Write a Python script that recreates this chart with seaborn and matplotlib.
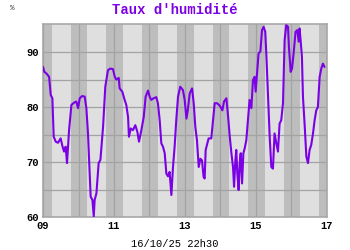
import numpy as np
import pandas as pd
import matplotlib
matplotlib.use("Agg")
import matplotlib.pyplot as plt
import seaborn as sns

# ---- data: hours since 09/10 00h00, relative humidity (%)
hours = [0.0, 0.9, 2.3, 3.2, 4.1, 5.2, 6.3, 7.2, 8.6, 10.1, 11.9, 13.1, 14.2, 15.3, 16.2,
         17.6, 19.2, 21.0, 22.5, 23.7, 24.8, 26.4, 28.2, 29.3, 30.4, 31.5, 32.2, 33.4,
         34.3, 34.9, 36.1, 37.6, 38.8, 40.6, 42.1, 43.9, 45.5, 47.3, 48.5, 49.6, 51.2,
         51.8, 53.6, 55.2, 56.3, 57.5, 58.1, 59.3, 60.8, 62.4, 63.8, 64.9, 66.5, 68.1,
         69.4, 71.0, 72.1, 73.2, 74.8, 76.6, 77.7, 78.9, 80.0, 81.1, 82.3, 83.4, 84.5,
         85.6, 86.8, 87.9, 89.0, 90.1, 91.3, 92.8, 94.6, 95.8, 97.0, 97.9, 99.2, 100.8,
         101.9, 103.0, 104.1, 105.3, 106.4, 107.5, 108.6, 109.3, 110.0, 111.1, 112.0,
         113.8, 115.0, 116.1, 117.7, 119.0, 120.1, 121.3, 122.4, 124.0, 125.1, 126.2,
         127.4, 128.5, 129.2, 130.1, 130.7, 131.4, 132.3, 133.0, 133.7, 134.6, 135.5,
         136.4, 137.5, 138.6, 139.7, 140.9, 142.0, 143.1, 143.8, 144.9, 145.8, 147.0,
         148.1, 149.2, 150.3, 151.0, 152.1, 153.3, 154.4, 155.5, 156.6, 157.8, 158.9,
         160.0, 161.1, 162.3, 163.4, 164.5, 165.7, 166.3, 167.5, 168.4, 169.5, 170.8,
         172.0, 172.9, 173.5, 174.2, 175.1, 175.8, 176.9, 178.1, 179.2, 180.3, 181.4,
         182.6, 183.7, 184.8, 185.9, 187.1, 188.2, 189.3, 190.4]
humidity = [87.3, 86.4, 86.1, 85.8, 85.5, 82.2, 81.6, 74.6, 73.7, 73.5, 74.3, 72.9, 71.9, 72.8, 69.8,
            75.8, 80.4, 80.8, 81.0, 79.8, 81.6, 82.0, 81.9, 79.8, 75.2, 67.9, 63.7, 63.1,
            60.1, 63.1, 64.3, 69.8, 70.4, 76.4, 83.7, 86.7, 87.0, 86.9, 85.5, 85.0, 85.3,
            83.4, 82.8, 81.3, 80.4, 78.2, 74.6, 76.1, 75.8, 76.7, 75.5, 73.7, 75.8, 78.2,
            81.9, 83.0, 81.9, 81.3, 81.6, 81.8, 80.7, 77.6, 73.4, 72.8, 71.6, 67.9, 67.4,
            68.2, 64.0, 69.1, 72.8, 77.6, 81.9, 83.7, 83.1, 81.3, 77.9, 79.4, 82.5, 83.4,
            80.7, 76.4, 74.0, 69.1, 70.6, 70.3, 67.3, 67.0, 72.2, 73.4, 74.3,
            74.3, 77.6, 80.7, 80.7, 80.4, 80.0, 79.4, 81.0, 81.6, 78.5, 74.9,
            71.6, 69.1, 65.5, 70.3, 72.2, 68.0, 64.9, 69.8, 71.6, 66.1, 71.6,
            72.5, 74.0, 77.6, 81.3, 79.8, 84.9, 85.5, 82.8, 86.7, 89.8, 90.1,
            94.0, 94.6, 93.7, 89.8, 82.5, 74.6, 69.1, 68.8, 75.2, 73.4, 71.9,
            77.0, 77.6, 80.7, 92.2, 94.9, 94.6, 91.0, 86.4, 87.0, 89.8, 93.7,
            94.0, 91.9, 94.3, 92.2, 89.2, 81.9, 77.0, 71.0, 69.8, 72.2, 73.1,
            75.2, 77.6, 79.4, 80.0, 85.5, 87.0, 87.9, 87.3]

first_day = 9
days = list(range(9, 17))          # 09 .. 16 (days shown)
x_ticks = [9, 11, 13, 15, 17]
x_labels = ["09", "11", "13", "15", "17"]
y_ticks = [60, 70, 80, 90]
title = "Taux d'humidité"
stamp = "16/10/25 22h30"
sunrise_h, sunset_h = 5.8, 18.7

df = pd.DataFrame({"day": first_day + np.array(hours) / 24.0, "hum": humidity})

PURPLE = "#7b00e6"
LIGHT = "#dfdfdf"
DARK = "#bdbdbd"
GRID = "#a3a3a3"

sns.set_style("white")
plt.rcParams["font.family"] = ["Liberation Mono", "DejaVu Sans Mono"]

fig = plt.figure(figsize=(3.5, 2.5), dpi=100)
ax = fig.add_axes([0.123, 0.132, 0.811, 0.774])
ax.set_facecolor(LIGHT)

# night bands
for d in days + [17]:
    ax.axvspan(d - 1 + sunset_h / 24, d + sunrise_h / 24, color=DARK, lw=0, zorder=0)

sns.lineplot(data=df, x="day", y="hum", ax=ax, color=PURPLE, lw=1.5, zorder=3)

ax.set_xlim(9, 17)
ax.set_ylim(60, 95.2)
ax.grid(True, color=GRID, lw=0.9, zorder=1)
ax.set_axisbelow(False)

ax.set_xticks(np.arange(9, 17.01, 1))
ax.set_xticklabels([x_labels[x_ticks.index(d)] if d in x_ticks else "" for d in range(9, 18)])
ax.set_yticks(np.arange(60, 95, 5))
ax.set_yticklabels([str(v) if v in y_ticks else "" for v in range(60, 95, 5)])
for gl in ax.get_xgridlines() + ax.get_ygridlines():
    gl.set_zorder(1)
ax.tick_params(axis="both", length=0, labelsize=7.5, colors="black", pad=3)
for lab in ax.get_xticklabels() + ax.get_yticklabels():
    lab.set_fontweight("bold")
ax.set_xlabel("")
ax.set_ylabel("")
for s in ax.spines.values():
    s.set_color("#a8a8a8")
    s.set_linewidth(1.2)

fig.text(0.5, 0.958, title, ha="center", va="center", color=PURPLE,
         fontsize=10, fontweight="bold")
fig.text(0.035, 0.965, "%", ha="center", va="center", fontsize=5.5, color="#333333")
fig.text(0.5, 0.025, stamp, ha="center", va="center", fontsize=7.5, color="black")

fig.savefig("out.png", dpi=100)
